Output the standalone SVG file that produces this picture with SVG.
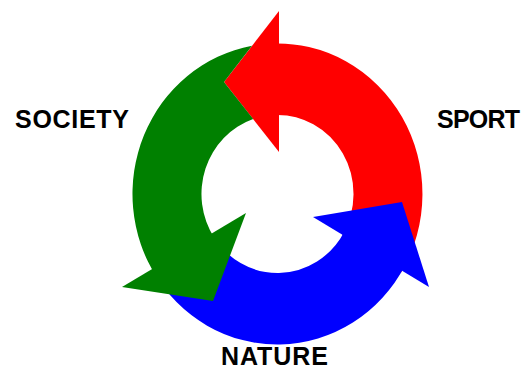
<svg xmlns="http://www.w3.org/2000/svg" width="526" height="371" viewBox="0 0 526 371">
  <style>
    .lbl { font-family: "Liberation Sans", Arial, sans-serif; font-weight: bold; font-size: 25px; fill: #000; text-anchor: middle; }
    .red { fill: #ff0000; }
    .green { fill: #008000; }
    .blue { fill: #0000ff; }
  </style>
  <rect width="526" height="371" fill="#ffffff"/>
  <g id="connectors">
    <g id="arrow-sport" class="red">
      <path d="M 401.1 272.6 A 145 150.5 0 0 0 269.9 43.7 L 273.5 115.1 A 76 79 0 0 1 342.3 235.3 Z"/>
      <polygon points="279,11 224,82 279,152"/>
    </g>
    <g id="arrow-nature" class="blue">
      <path d="M 152.9 271.1 A 145 150.5 0 0 0 404.9 265.8 L 344.3 231.7 A 76 79 0 0 1 212.2 234.4 Z"/>
      <polygon points="313,217 402,202 429,287"/>
    </g>
    <g id="arrow-society" class="green">
      <path d="M 252.0 45.8 A 145 150.5 0 0 0 157.0 277.7 L 214.3 237.9 A 76 79 0 0 1 253.2 119.1 L 224 82 Z"/>
      <polygon points="246,213 213,301 122,287"/>
    </g>
  </g>
  <g id="node-society">
    <text class="lbl" x="72" y="128" textLength="114" lengthAdjust="spacing">SOCIETY</text>
  </g>
  <g id="node-sport">
    <text class="lbl" x="478.5" y="128" textLength="83" lengthAdjust="spacing">SPORT</text>
  </g>
  <g id="node-nature">
    <text class="lbl" x="274.5" y="365" textLength="107" lengthAdjust="spacing">NATURE</text>
  </g>
</svg>
